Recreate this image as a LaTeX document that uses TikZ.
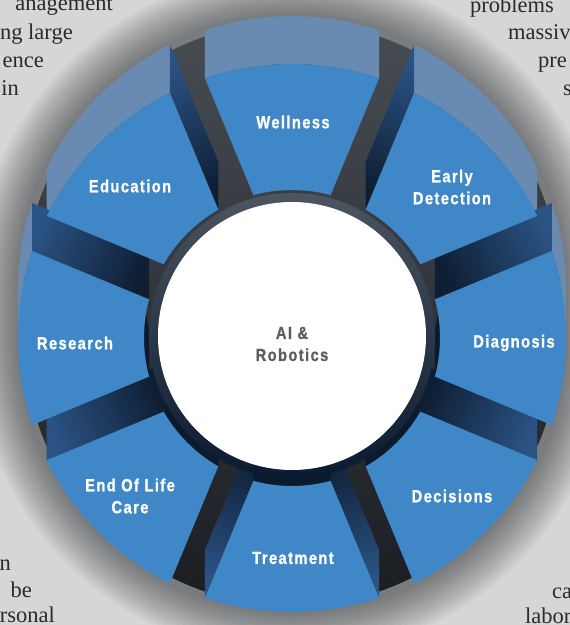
\documentclass[tikz,border=0pt]{standalone}
\usepackage{fontspec}
\newfontfamily\lblfont[FakeStretch=0.84,LetterSpace=8,BoldFeatures={FakeBold=1}]{Liberation Sans}
\newfontfamily\pagefont{Liberation Serif}
\usetikzlibrary{calc}
\definecolor{bgcol}{HTML}{D5D6D8}
\definecolor{facecol}{HTML}{3F87C6}
\definecolor{outwall}{HTML}{6A8BB1}
\definecolor{sidein}{HTML}{0E1E33}
\definecolor{sideout}{HTML}{2A5283}
\definecolor{innerwall}{HTML}{0C1A2E}
\definecolor{floortop}{HTML}{474C53}
\definecolor{floorbot}{HTML}{1A1D21}
\definecolor{rimtop}{HTML}{4C5560}
\definecolor{rimbot}{HTML}{0A1A30}
\definecolor{glow}{HTML}{71829A}
\definecolor{rimdark}{HTML}{1B2A3E}
\definecolor{inkcol}{HTML}{2A2A2A}
\definecolor{hubtext}{HTML}{5E5E5E}
% white hub disk fading into a dark rim
\pgfdeclareradialshading{hubdisk}{\pgfpointorigin}{color(0bp)=(white); color(41bp)=(white); color(44.5bp)=(white!88!glow); color(47.5bp)=(glow); color(50bp)=(rimdark)}

\begin{document}
\begin{tikzpicture}[x=1pt,y=1pt,
  seglabel/.style={font=\lblfont\bfseries\fontsize{17.5}{22}\selectfont, text=white, align=center, inner sep=0pt},
  hublabel/.style={font=\lblfont\bfseries\fontsize{17.5}{22}\selectfont, text=hubtext, align=center, inner sep=0pt},
  pagetext/.style={font=\pagefont\fontsize{22.5}{28}\selectfont, text=inkcol, inner sep=0pt},
]
% ring geometry: inner/outer radius, half gap width, extrusion depth
\def\ri{148}\def\ro{274}\def\g{19}\def\T{48}
\pgfmathsetmacro\ai{22.5-asin(\g/\ri)}
\pgfmathsetmacro\ao{22.5-asin(\g/\ro)}

\useasboundingbox (-292,-287) rectangle (278,338);
\clip (-292,-287) rectangle (278,338);
\fill[bgcol] (-292,-287) rectangle (278,338);

% soft drop shadow around the ring
\foreach \k in {18,17,...,1}{
  \pgfmathsetmacro\rr{\ro+2.5*\k}
  \fill[black,opacity=0.028] (\rr,0) -- (\rr,\T)
    arc[start angle=0,end angle=180,radius=\rr] -- (-\rr,0)
    arc[start angle=180,end angle=360,radius=\rr] -- cycle;
}
% floor under the blocks
\pgfmathsetmacro\rf{\ro-6}
\shade[top color=floortop, bottom color=floorbot] (\rf,0) -- (\rf,\T)
  arc[start angle=0,end angle=180,radius=\rf]
  -- (-\rf,0) arc[start angle=180,end angle=360,radius=\rf] -- cycle;

% outer walls (upper half)
\foreach \p in {0,45,90,135,180}{
  \pgfmathsetmacro\a{max(\p-\ao,0)}
  \pgfmathsetmacro\b{min(\p+\ao,180)}
  \fill[outwall] (\a:\ro) arc[start angle=\a,end angle=\b,radius=\ro]
    -- ++(0,\T) arc[start angle=\b,end angle=\a,radius=\ro] -- cycle;
}
% side walls seen through the gaps
\foreach \p/\s in {0/1,45/1,135/-1,180/-1,225/-1,270/-1,270/1,315/1}{
  \pgfmathsetmacro\eo{\p+\s*\ao}
  \pgfmathsetmacro\ei{\p+\s*\ai}
  \pgfmathsetmacro\ga{\p+\s*22.5-90}
  \shade[top color=sideout, bottom color=sidein, shading angle=\ga]
    (\eo:\ro) -- (\ei:\ri) -- ([yshift=\T pt]\ei:\ri) -- ([yshift=\T pt]\eo:\ro) -- cycle;
}
% inner walls (lower half)
\foreach \p in {180,225,270,315,360}{
  \pgfmathsetmacro\a{max(\p-\ai,180)}
  \pgfmathsetmacro\b{min(\p+\ai,360)}
  \fill[innerwall] (\a:\ri) arc[start angle=\a,end angle=\b,radius=\ri]
    -- ++(0,\T) arc[start angle=\b,end angle=\a,radius=\ri] -- cycle;
}

% central hub: dark rim and glowing white disk
\shade[top color=rimtop, bottom color=rimbot] (0,2) circle (143);
\shade[shading=hubdisk] (0,2) circle (134);

% front faces of the eight blocks
\foreach \p in {0,45,...,315}{
  \fill[facecol] (\p-\ao:\ro) arc[start angle=\p-\ao,end angle=\p+\ao,radius=\ro]
    -- (\p+\ai:\ri) arc[start angle=\p+\ai,end angle=\p-\ai,radius=\ri] -- cycle;
}

% labels
\node[hublabel]  (hub) at (0,-6)      {AI \&\\Robotics};
\node[seglabel]  (wel) at (1,216)     {Wellness};
\node[seglabel]  (ear) at (160,151)   {Early\\Detection};
\node[seglabel]  (dia) at (222,-5)    {Diagnosis};
\node[seglabel]  (dec) at (160,-158)  {Decisions};
\node[seglabel]  (tre) at (1,-220)    {Treatment};
\node[seglabel]  (end) at (-162,-158) {End Of Life\\Care};
\node[seglabel]  (res) at (-217,-5)   {Research};
\node[seglabel]  (edu) at (-162,152)  {Education};

% surrounding page text
\node[pagetext, anchor=base east] (tl1) at (-179,328) {anagement};
\node[pagetext, anchor=base east] (tl2) at (-219,299) {ng large};
\node[pagetext, anchor=base east] (tl3) at (-248,271) {ence};
\node[pagetext, anchor=base east] (tl4) at (-273,243) {in};
\node[pagetext, anchor=base west] (tr1) at (178,326)  {problems};
\node[pagetext, anchor=base west] (tr2) at (216,299)  {massiv};
\node[pagetext, anchor=base west] (tr3) at (246,271)  {pre};
\node[pagetext, anchor=base west] (tr4) at (271,243)  {s};
\node[pagetext, anchor=base east] (bl1) at (-281,-232) {n};
\node[pagetext, anchor=base east] (bl2) at (-260,-259) {be};
\node[pagetext, anchor=base east] (bl3) at (-237,-284) {rsonal};
\node[pagetext, anchor=base west] (br1) at (260,-260)  {ca};
\node[pagetext, anchor=base west] (br2) at (233,-285)  {labor};
\end{tikzpicture}
\end{document}
